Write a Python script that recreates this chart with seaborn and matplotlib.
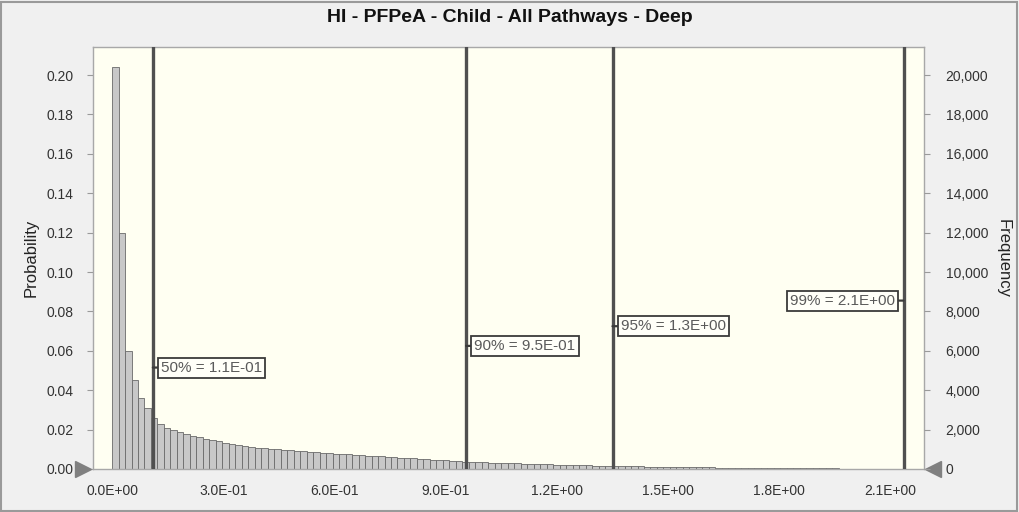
import seaborn as sns
import pandas as pd
import numpy as np
import matplotlib.pyplot as plt
from matplotlib.ticker import FuncFormatter
from matplotlib.patches import Rectangle

# histogram: bin width ~0.0175, probability per bin
bin_width = 0.0175
probs = [0.204, 0.120, 0.060, 0.045, 0.036, 0.031, 0.026, 0.023, 0.021, 0.020,
         0.019, 0.018, 0.017, 0.016, 0.015, 0.0145, 0.014, 0.013, 0.0125, 0.012,
         0.0115, 0.011, 0.0108, 0.0105, 0.0102, 0.010, 0.0097, 0.0094, 0.0092, 0.009,
         0.0087, 0.0085, 0.0082, 0.008, 0.0078, 0.0076, 0.0074, 0.0072, 0.007, 0.0068,
         0.0066, 0.0064, 0.0062, 0.006, 0.0058, 0.0056, 0.0054, 0.0052, 0.005, 0.0048,
         0.0046, 0.0044, 0.0042, 0.004, 0.0038, 0.0037, 0.0035, 0.0034, 0.0032, 0.0031,
         0.003, 0.0029, 0.0028, 0.0027, 0.0026, 0.0025, 0.0024, 0.0023, 0.0022, 0.0021,
         0.002, 0.0019, 0.0018, 0.0018, 0.0017, 0.0016, 0.0016, 0.0015, 0.0014, 0.0014,
         0.0013, 0.0013, 0.0012, 0.0012, 0.0011, 0.0011, 0.001, 0.001, 0.0009, 0.0009,
         0.0008, 0.0008, 0.0008, 0.0007, 0.0007, 0.0007, 0.0006, 0.0006, 0.0006, 0.0005,
         0.0005, 0.0005, 0.0005, 0.0004, 0.0004, 0.0004, 0.0004, 0.0003, 0.0003, 0.0003,
         0.0003, 0.0003, 0.0002, 0.0002, 0.0002, 0.0002, 0.0002, 0.0002, 0.0001, 0.0001,
         0.0001, 0.0001]
trials = 100000

pct_labels = ["50% = 1.1E-01", "90% = 9.5E-01", "95% = 1.3E+00", "99% = 2.1E+00"]
pct_values = [0.11, 0.955, 1.35, 2.135]
pct_label_y = [0.0515, 0.0625, 0.0725, 0.0855]
pct_side = ["right", "right", "right", "left"]

x_ticks = [0.0, 0.3, 0.6, 0.9, 1.2, 1.5, 1.8, 2.1]
y_ticks = [0.00, 0.02, 0.04, 0.06, 0.08, 0.10, 0.12, 0.14, 0.16, 0.18, 0.20]

title = "HI - PFPeA - Child - All Pathways - Deep"

edges = [i * bin_width for i in range(len(probs) + 1)]
df = pd.DataFrame({"x": [e + bin_width / 2 for e in edges[:-1]], "p": probs})

sns.set_style("white")
plt.rcParams['font.family'] = ['Liberation Sans', 'DejaVu Sans']

fig = plt.figure(figsize=(10.19, 5.12), dpi=100, facecolor="#f0f0f0")
ax = fig.add_axes([0.0913, 0.084, 0.815, 0.824])
ax.set_facecolor("#fffff2")

sns.histplot(data=df, x="x", weights="p", bins=edges, stat="count",
             color="#c8c8c8", edgecolor="#6a6a6a", linewidth=0.6, alpha=1, ax=ax)

ax.set_xlim(-0.0513, 2.189)
ax.set_ylim(0, 0.2142)
ax.set_xticks(x_ticks)
ax.set_yticks(y_ticks)
ax.xaxis.set_major_formatter(FuncFormatter(lambda v, p: "%.1E" % v))
ax.yaxis.set_major_formatter(FuncFormatter(lambda v, p: "%.2f" % v))
ax.tick_params(axis="x", labelsize=10, colors="#9a9a9a", labelcolor="#333333",
               length=4, width=0.8, direction="out", pad=7)
ax.tick_params(axis="y", labelsize=10, colors="#9a9a9a", labelcolor="#333333",
               length=4, width=0.8, direction="out", pad=10)
ax.set_xlabel("")
ax.set_ylabel("Probability", fontsize=12, color="#222222", labelpad=6)
for s in ax.spines.values():
    s.set_color("#a8a8a8")
    s.set_linewidth(1)

# percentile lines and labels
for q, lab, ly, side in zip(pct_values, pct_labels, pct_label_y, pct_side):
    ax.axvline(q, color="#505050", lw=2.4, zorder=4)
    off = 6 if side == "right" else -6
    ax.annotate(lab, xy=(q, ly), xytext=(off, 0), textcoords="offset points",
                ha="left" if side == "right" else "right", va="center",
                fontsize=11, color="#5a5a5a", zorder=6,
                bbox=dict(boxstyle="square,pad=0.2", fc="#fffff8", ec="#3a3a3a", lw=1.3),
                arrowprops=dict(arrowstyle="-", color="#3a3a3a", lw=1.6,
                                shrinkA=0, shrinkB=0))

# right frequency axis
ax2 = ax.twinx()
ax2.set_ylim(0, 0.2142 * trials)
ax2.set_yticks([v * trials for v in y_ticks])
ax2.yaxis.set_major_formatter(FuncFormatter(lambda v, p: "{:,}".format(int(round(v)))))
ax2.tick_params(axis="y", labelsize=10, colors="#9a9a9a", labelcolor="#333333",
                length=4, width=0.8, pad=12)
ax2.set_ylabel("Frequency", fontsize=12, color="#222222", rotation=-90, labelpad=16)
for s in ax2.spines.values():
    s.set_visible(False)

# certainty grabbers
ax.plot([-0.012], [0], marker=">", ms=12, color="#808080", transform=ax.transAxes,
        clip_on=False, zorder=7)
ax.plot([1.012], [0], marker="<", ms=12, color="#808080", transform=ax.transAxes,
        clip_on=False, zorder=7)

fig.suptitle(title, y=0.983, fontsize=14, fontweight="bold", color="#111111")
fig.patches.append(Rectangle((0.001, 0.002), 0.997, 0.995, transform=fig.transFigure,
                             fill=False, ec="#9a9a9a", lw=1.5))

fig.savefig("out.png", dpi=100, facecolor=fig.get_facecolor())
